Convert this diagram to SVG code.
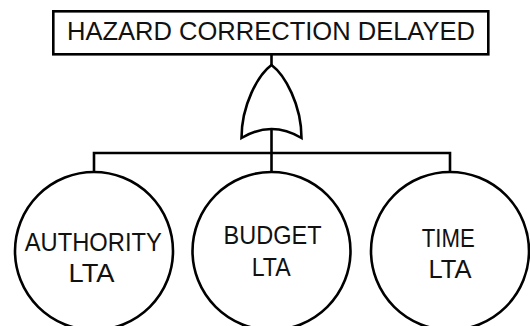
<svg xmlns="http://www.w3.org/2000/svg" width="530" height="326" viewBox="0 0 530 326">
<style>
.shape{fill:#fff;stroke:#000;stroke-width:2.6}
.conn{fill:none;stroke:#000;stroke-width:2.6}
text{font-family:"Liberation Sans",Arial,sans-serif;fill:#111;text-anchor:middle}
.t1{font-size:25px}
.t2{font-size:26px}
</style>
<rect width="530" height="326" fill="#fff"/>
<g id="connectors">
<line class="conn" x1="271.5" y1="54" x2="271.5" y2="66"/>
<line class="conn" x1="271.5" y1="129" x2="271.5" y2="153"/>
<polyline class="conn" points="94,172 94,153 450,153 450,172"/>
<line class="conn" x1="271.5" y1="153" x2="271.5" y2="172"/>
</g>
<g id="top-event">
<rect class="shape" x="53.3" y="11.3" width="435" height="43"/>
<text class="t1" x="271" y="40" textLength="408" lengthAdjust="spacingAndGlyphs">HAZARD CORRECTION DELAYED</text>
</g>
<g id="or-gate">
<path class="shape" d="M271.5 65 C258 75 241.5 105 241.5 138 Q271.5 120 301.5 138 C301.5 105 285 75 271.5 65 Z"/>
</g>
<g id="authority">
<circle class="shape" cx="94" cy="251" r="79"/>
<text class="t2" x="93.3" y="250.5" textLength="137" lengthAdjust="spacingAndGlyphs">AUTHORITY</text>
<text class="t2" x="91.5" y="281.5" textLength="46" lengthAdjust="spacingAndGlyphs">LTA</text>
</g>
<g id="budget">
<circle class="shape" cx="271.5" cy="251" r="79"/>
<text class="t2" x="272.5" y="244.3" textLength="98" lengthAdjust="spacingAndGlyphs">BUDGET</text>
<text class="t2" x="271.2" y="275.7" textLength="39" lengthAdjust="spacingAndGlyphs">LTA</text>
</g>
<g id="time">
<circle class="shape" cx="450" cy="251" r="79"/>
<text class="t2" x="448.3" y="246.7" textLength="53" lengthAdjust="spacingAndGlyphs">TIME</text>
<text class="t2" x="450" y="278.3" textLength="43" lengthAdjust="spacingAndGlyphs">LTA</text>
</g>
</svg>
